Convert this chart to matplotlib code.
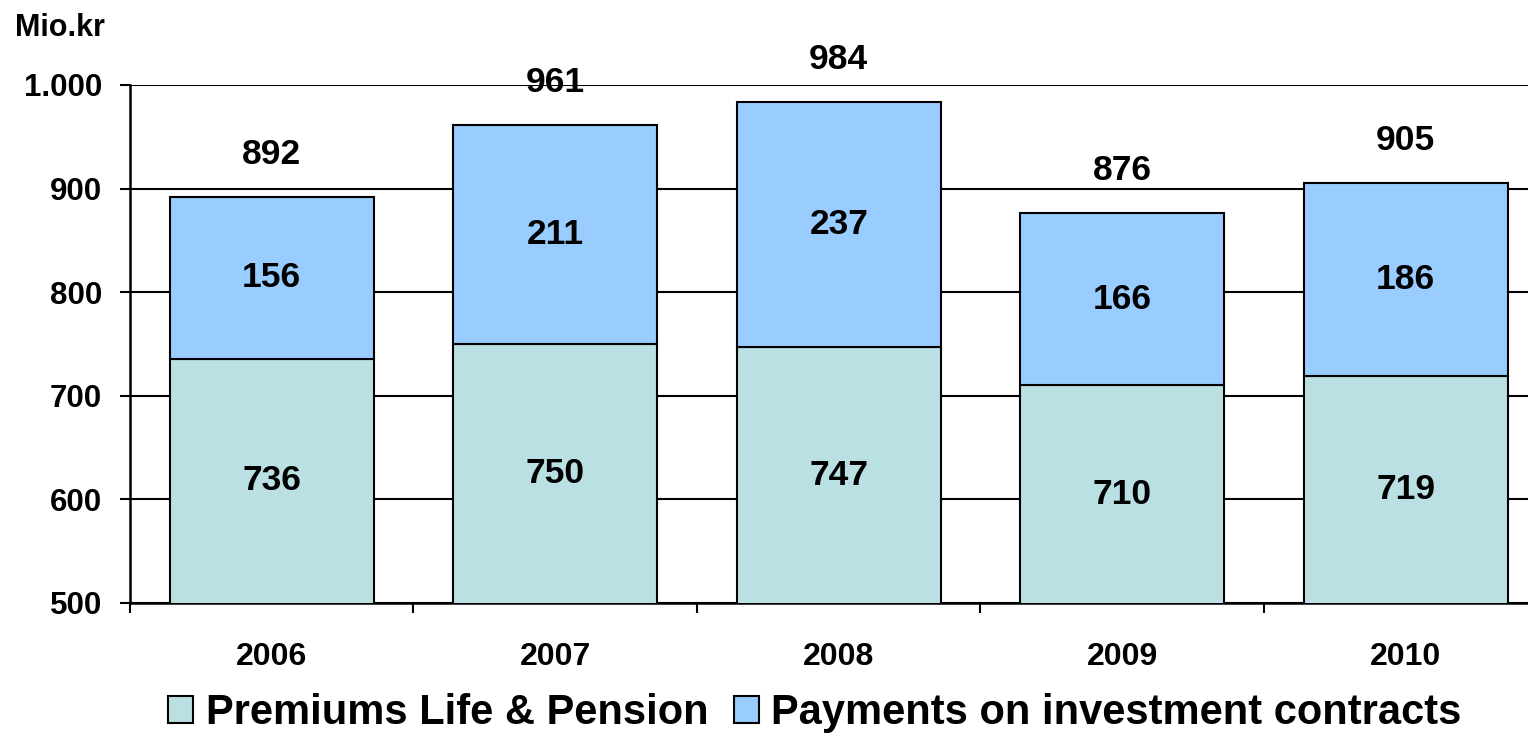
import matplotlib
matplotlib.use("Agg")
import matplotlib.pyplot as plt
from matplotlib.patches import Patch
from matplotlib.ticker import FuncFormatter
import numpy as np

# data
years = ["2006", "2007", "2008", "2009", "2010"]
premiums = [736, 750, 747, 710, 719]
payments = [156, 211, 237, 166, 186]
totals = [892, 961, 984, 876, 905]

c_prem = "#BBE0E3"
c_pay = "#99CCFF"

plt.rcParams["font.family"] = ["Liberation Sans", "DejaVu Sans"]
plt.rcParams["font.weight"] = "bold"

fig = plt.figure(figsize=(15.28, 7.33), dpi=100)
ax = fig.add_axes([130 / 1528, 1 - 603 / 733, 1417.5 / 1528, 518 / 733])

x = np.arange(len(years)) + 0.5
ax.bar(x, premiums, width=0.72, color=c_prem, edgecolor="black", linewidth=1.5, zorder=3)
ax.bar(x, payments, width=0.72, bottom=premiums, color=c_pay, edgecolor="black", linewidth=1.5, zorder=3)

ymin = 500
for xi, p, q, t in zip(x, premiums, payments, totals):
    ax.text(xi, (ymin + p) / 2, str(p), ha="center", va="center", fontsize=25.5, fontweight="bold", zorder=4)
    ax.text(xi, p + q / 2, str(q), ha="center", va="center", fontsize=25.5, fontweight="bold", zorder=4)
    ax.text(xi, t + 41, str(t), ha="center", va="center", fontsize=25.5, fontweight="bold", zorder=4)

ax.set_ylim(500, 1000)
ax.set_xlim(0, len(years))
ax.set_yticks([500, 600, 700, 800, 900, 1000])
ax.yaxis.set_major_formatter(FuncFormatter(lambda v, _: f"{int(v):,}".replace(",", ".")))
ax.grid(axis="y", color="black", linewidth=1.5, zorder=1)
ax.set_axisbelow(True)

ax.set_xticks(np.arange(len(years) + 1))
ax.set_xticklabels([])
ax.set_xticks(x, minor=True)
ax.set_xticklabels(years, minor=True)
ax.tick_params(axis="x", which="minor", length=0, pad=28, labelsize=23)
ax.tick_params(axis="x", which="major", length=7, width=1.5, direction="out")
ax.tick_params(axis="y", length=7, width=1.5, direction="out", pad=13, labelsize=22.5)
for lbl in ax.get_xticklabels(minor=True) + ax.get_yticklabels():
    lbl.set_fontweight("bold")

for s in ["top", "right"]:
    ax.spines[s].set_visible(False)
for s in ["left", "bottom"]:
    ax.spines[s].set_linewidth(1.8)

fig.text(15 / 1528, 1 - 28 / 733, "Mio.kr", fontsize=22, fontweight="bold", ha="left", va="center")

handles = [Patch(facecolor=c_prem, edgecolor="black", linewidth=1.5),
           Patch(facecolor=c_pay, edgecolor="black", linewidth=1.5)]
fig.legend(handles, ["Premiums Life & Pension", "Payments on investment contracts"],
           loc="center", bbox_to_anchor=(815 / 1528, 1 - 713 / 733), ncol=2, frameon=False,
           handlelength=0.6, handleheight=0.6, handletextpad=0.3, columnspacing=0.6,
           prop={"size": 30, "weight": "bold"})

fig.savefig("out.png", dpi=100)
